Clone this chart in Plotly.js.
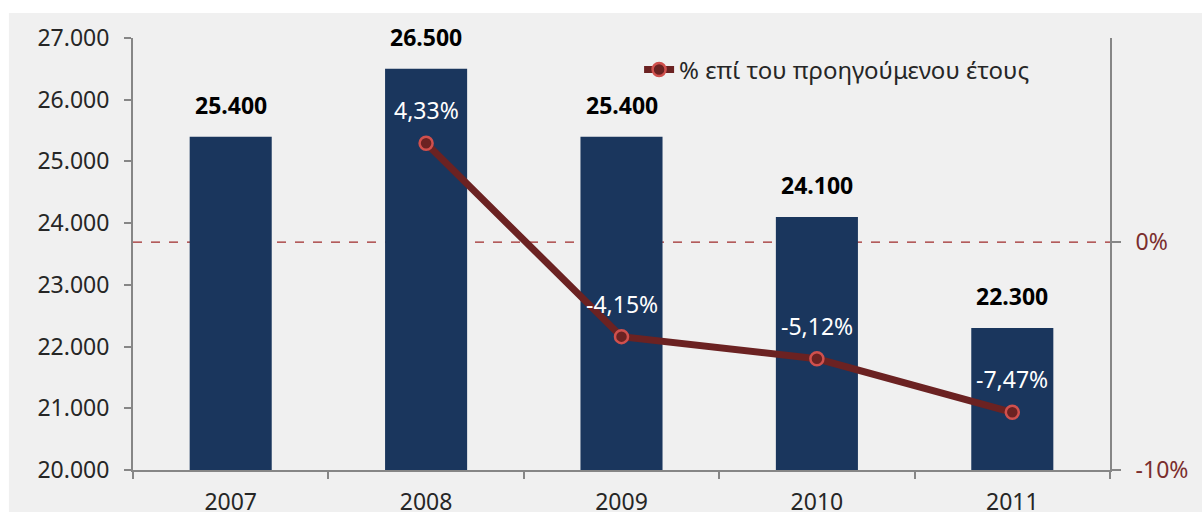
<!DOCTYPE html>
<html>
<head>
<meta charset="utf-8">
<script src="https://cdn.plot.ly/plotly-3.0.1.min.js"></script>
<style>
  html, body { margin: 0; padding: 0; background: #fff; }
  #chart { width: 1202px; height: 512px; }
</style>
</head>
<body>
<div id="chart"></div>
<script>
var years = ["2007", "2008", "2009", "2010", "2011"];
var volume = [25400, 26500, 25400, 24100, 22300];
var changeYears = ["2008", "2009", "2010", "2011"];
var changePct = [4.33, -4.15, -5.12, -7.47];
var legendName = "% επί του προηγούμενου έτους";

var FONT = "Noto Sans, Open Sans, sans-serif";

// Bars
var bars = {
  type: "bar",
  x: years,
  y: volume,
  marker: { color: "#1a365d" },
  showlegend: false,
  hoverinfo: "skip"
};

// Line on secondary axis
var line = {
  type: "scatter",
  mode: "lines+markers",
  x: changeYears,
  y: changePct,
  yaxis: "y2",
  name: legendName,
  line: { color: "#6b2222", width: 7 },
  marker: { size: 13, color: "#6b2222", line: { color: "#d0504d", width: 2.5 } },
  hoverinfo: "skip"
};

function fmtThousands(v) {
  return String(v).replace(/\B(?=(\d{3})+(?!\d))/g, ".");
}

// Bold value labels above the bars
var barLabels = years.map(function (yr, i) {
  return {
    x: i, y: volume[i], xref: "x", yref: "y",
    text: "<b>" + fmtThousands(volume[i]) + "</b>",
    showarrow: false, yanchor: "bottom", yshift: 14,
    font: { family: FONT, size: 23, color: "#000000" }
  };
});

// White percentage labels above the markers (x given as category index)
var pctLabels = changeYears.map(function (yr, i) {
  return {
    x: years.indexOf(yr), y: changePct[i], xref: "x", yref: "y2",
    text: changePct[i].toFixed(2).replace(".", ",") + "%",
    showarrow: false, yshift: 33,
    font: { family: FONT, size: 23, color: "#ffffff" }
  };
});

var layout = {
  width: 1202,
  height: 512,
  margin: { l: 133, r: 92, t: 38, b: 42 },
  paper_bgcolor: "#ffffff",
  plot_bgcolor: "rgba(0,0,0,0)",
  separators: ",.",
  bargap: 0.58,
  font: { family: FONT, size: 23, color: "#262626" },
  xaxis: {
    type: "category",
    range: [-0.5, 4.5],
    showline: true, linecolor: "#868686", linewidth: 2,
    ticks: "outside", tickson: "boundaries", ticklen: 7, tickcolor: "#868686", tickwidth: 2,
    ticklabelstandoff: 10,
    tickfont: { family: FONT, size: 23, color: "#262626" },
    tickangle: 0,
    showgrid: false, zeroline: false
  },
  yaxis: {
    range: [20000, 27000],
    dtick: 1000,
    tickformat: ",.0f",
    showline: true, linecolor: "#868686", linewidth: 2,
    ticks: "outside", ticklen: 7, tickcolor: "#868686", tickwidth: 2,
    ticklabelstandoff: 10,
    tickfont: { family: FONT, size: 23, color: "#262626" },
    showgrid: false, zeroline: false
  },
  yaxis2: {
    overlaying: "y",
    side: "right",
    range: [-10, 8.95],
    tickvals: [-10, 0],
    ticktext: ["-10%", "0%"],
    showline: true, linecolor: "#868686", linewidth: 2,
    ticks: "outside", ticklen: 9, tickcolor: "#868686", tickwidth: 2,
    ticklabelstandoff: 10,
    tickfont: { family: FONT, size: 23, color: "#7b2e2e" },
    showgrid: false, zeroline: false
  },
  legend: {
    x: 0.518, y: 0.926, xanchor: "left", yanchor: "middle",
    bgcolor: "rgba(0,0,0,0)",
    font: { family: FONT, size: 24, color: "#262626" },
    itemwidth: 30
  },
  shapes: [
    {
      type: "rect", xref: "paper", yref: "paper",
      x0: -0.127, x1: 1.2, y0: -0.2, y1: 1.058,
      fillcolor: "#f0f0f0", line: { width: 0 }, layer: "below"
    },
    {
      type: "line", xref: "paper", yref: "y2",
      x0: 0, x1: 1, y0: 0, y1: 0,
      line: { color: "#9e2a2a", width: 1.2, dash: "dash" }, layer: "below"
    }
  ],
  annotations: barLabels.concat(pctLabels)
};

Plotly.newPlot("chart", [bars, line], layout, { displayModeBar: false, staticPlot: true });
</script>
</body>
</html>
